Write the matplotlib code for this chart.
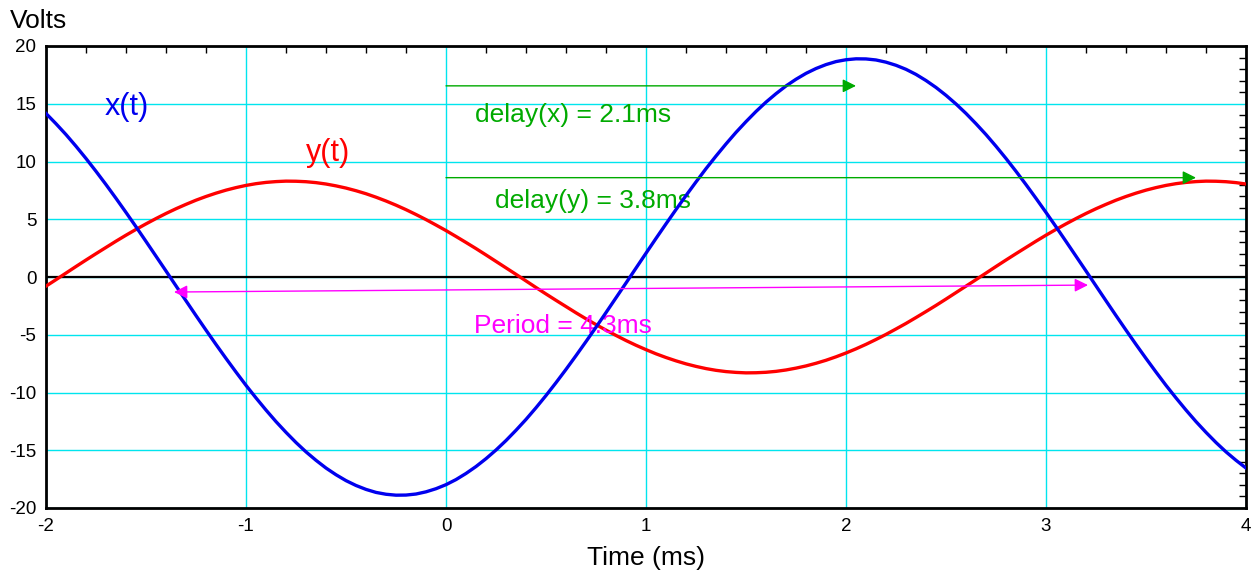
import matplotlib
matplotlib.use("Agg")
import matplotlib.pyplot as plt
from matplotlib.ticker import MultipleLocator

plt.rcParams['font.family'] = ['Liberation Sans', 'DejaVu Sans']

# time axis in ms, one reading every 0.05 ms
t_ms = [-2.00, -1.95, -1.90, -1.85, -1.80, -1.75, -1.70, -1.65, -1.60, -1.55,
        -1.50, -1.45, -1.40, -1.35, -1.30, -1.25, -1.20, -1.15, -1.10, -1.05,
        -1.00, -0.95, -0.90, -0.85, -0.80, -0.75, -0.70, -0.65, -0.60, -0.55,
        -0.50, -0.45, -0.40, -0.35, -0.30, -0.25, -0.20, -0.15, -0.10, -0.05,
        0.00, 0.05, 0.10, 0.15, 0.20, 0.25, 0.30, 0.35, 0.40, 0.45,
        0.50, 0.55, 0.60, 0.65, 0.70, 0.75, 0.80, 0.85, 0.90, 0.95,
        1.00, 1.05, 1.10, 1.15, 1.20, 1.25, 1.30, 1.35, 1.40, 1.45,
        1.50, 1.55, 1.60, 1.65, 1.70, 1.75, 1.80, 1.85, 1.90, 1.95,
        2.00, 2.05, 2.10, 2.15, 2.20, 2.25, 2.30, 2.35, 2.40, 2.45,
        2.50, 2.55, 2.60, 2.65, 2.70, 2.75, 2.80, 2.85, 2.90, 2.95,
        3.00, 3.05, 3.10, 3.15, 3.20, 3.25, 3.30, 3.35, 3.40, 3.45,
        3.50, 3.55, 3.60, 3.65, 3.70, 3.75, 3.80, 3.85, 3.90, 3.95, 4.00]

# x(t) volts
x_volts = [14.16, 13.27, 12.33, 11.32, 10.26, 9.15, 8.00, 6.81, 5.59, 4.35,
           3.08, 1.80, 0.52, -0.77, -2.06, -3.34, -4.60, -5.84, -7.05, -8.23,
           -9.38, -10.47, -11.52, -12.52, -13.45, -14.33, -15.14, -15.87, -16.54, -17.12,
           -17.63, -18.05, -18.39, -18.65, -18.81, -18.89, -18.88, -18.79, -18.60, -18.33,
           -17.98, -17.54, -17.01, -16.41, -15.73, -14.98, -14.16, -13.27, -12.33, -11.32,
           -10.26, -9.15, -8.00, -6.81, -5.59, -4.35, -3.08, -1.80, -0.52, 0.77,
           2.06, 3.34, 4.60, 5.84, 7.05, 8.23, 9.38, 10.47, 11.52, 12.52,
           13.45, 14.33, 15.14, 15.87, 16.54, 17.12, 17.63, 18.05, 18.39, 18.65,
           18.81, 18.89, 18.88, 18.79, 18.60, 18.33, 17.98, 17.54, 17.01, 16.41,
           15.73, 14.98, 14.16, 13.27, 12.33, 11.32, 10.26, 9.15, 8.00, 6.81,
           5.59, 4.35, 3.08, 1.80, 0.52, -0.77, -2.06, -3.34, -4.60, -5.84,
           -7.05, -8.23, -9.38, -10.47, -11.52, -12.52, -13.45, -14.33, -15.14, -15.87, -16.54]

# y(t) volts
y_volts = [-0.79, -0.23, 0.34, 0.91, 1.47, 2.02, 2.56, 3.10, 3.62, 4.12,
           4.60, 5.06, 5.50, 5.91, 6.29, 6.65, 6.97, 7.26, 7.52, 7.74,
           7.93, 8.08, 8.19, 8.26, 8.30, 8.29, 8.25, 8.17, 8.05, 7.89,
           7.70, 7.47, 7.21, 6.91, 6.58, 6.22, 5.83, 5.41, 4.97, 4.50,
           4.02, 3.51, 2.99, 2.46, 1.91, 1.35, 0.79, 0.23, -0.34, -0.91,
           -1.47, -2.02, -2.56, -3.10, -3.62, -4.12, -4.60, -5.06, -5.50, -5.91,
           -6.29, -6.65, -6.97, -7.26, -7.52, -7.74, -7.93, -8.08, -8.19, -8.26,
           -8.30, -8.29, -8.25, -8.17, -8.05, -7.89, -7.70, -7.47, -7.21, -6.91,
           -6.58, -6.22, -5.83, -5.41, -4.97, -4.50, -4.02, -3.51, -2.99, -2.46,
           -1.91, -1.35, -0.79, -0.23, 0.34, 0.91, 1.47, 2.02, 2.56, 3.10,
           3.62, 4.12, 4.60, 5.06, 5.50, 5.91, 6.29, 6.65, 6.97, 7.26,
           7.52, 7.74, 7.93, 8.08, 8.19, 8.26, 8.30, 8.29, 8.25, 8.17, 8.05]

x_ticks = [-2, -1, 0, 1, 2, 3, 4]
y_ticks = [-20, -15, -10, -5, 0, 5, 10, 15, 20]

# annotation arrows: (start, end) in data units
delay_x_arrow = ((0.0, 16.55), (2.05, 16.55))
delay_y_arrow = ((0.0, 8.6), (3.75, 8.6))
period_arrow = ((-1.36, -1.3), (3.21, -0.7))

fig = plt.figure(figsize=(12.57, 5.73), dpi=100)
ax = fig.add_axes([46 / 1257, 1 - 508 / 573, 1200 / 1257, 462 / 573])

ax.set_xlim(-2, 4)
ax.set_ylim(-20, 20)
ax.set_xticks(x_ticks)
ax.set_yticks(y_ticks)
ax.set_xticklabels([str(v) for v in x_ticks])
ax.set_yticklabels([str(v) for v in y_ticks])
ax.xaxis.set_minor_locator(MultipleLocator(0.2))
ax.yaxis.set_minor_locator(MultipleLocator(1))

ax.grid(True, which='major', color='#00e5ee', lw=1.0)
ax.set_axisbelow(True)
ax.axhline(0, color='black', lw=1.6, zorder=2)

ax.tick_params(which='both', direction='in', bottom=False, left=False,
               top=True, right=True, labelsize=13.5, pad=7, length=5,
               width=1.0, colors='black')
ax.tick_params(which='major', length=0)
for s in ax.spines.values():
    s.set_linewidth(2.0)
    s.set_color('black')

ax.plot(t_ms, y_volts, color='#ff0000', lw=2.4, zorder=3)
ax.plot(t_ms, x_volts, color='#0000ee', lw=2.4, zorder=4)

ax.text(-1.705, 14.0, 'x(t)', color='#0000ee', fontsize=22, ha='left', va='baseline')
ax.text(-0.70, 10.0, 'y(t)', color='#ff0000', fontsize=22, ha='left', va='baseline')

green = '#00aa00'
ax.annotate('', xy=delay_x_arrow[1], xytext=delay_x_arrow[0],
            arrowprops=dict(arrowstyle='-|>', color=green, lw=1.0,
                            mutation_scale=20, shrinkA=0, shrinkB=0), zorder=5)
ax.annotate('', xy=delay_y_arrow[1], xytext=delay_y_arrow[0],
            arrowprops=dict(arrowstyle='-|>', color=green, lw=1.0,
                            mutation_scale=20, shrinkA=0, shrinkB=0), zorder=5)
ax.text(0.145, 13.4, 'delay(x) = 2.1ms', color=green, fontsize=19, va='baseline')
ax.text(0.245, 5.97, 'delay(y) = 3.8ms', color=green, fontsize=19, va='baseline')

ax.annotate('', xy=period_arrow[1], xytext=period_arrow[0],
            arrowprops=dict(arrowstyle='<|-|>', color='#ff00ff', lw=1.0,
                            mutation_scale=20, shrinkA=0, shrinkB=0), zorder=5)
ax.text(0.14, -4.85, 'Period = 4.3ms', color='#ff00ff', fontsize=19, va='baseline')

fig.text(10 / 1257, 1 - 28 / 573, 'Volts', fontsize=19, ha='left', va='baseline')
fig.text(646 / 1257, 1 - 565 / 573, 'Time (ms)', fontsize=19, ha='center', va='baseline')

fig.savefig('out.png', dpi=100)
